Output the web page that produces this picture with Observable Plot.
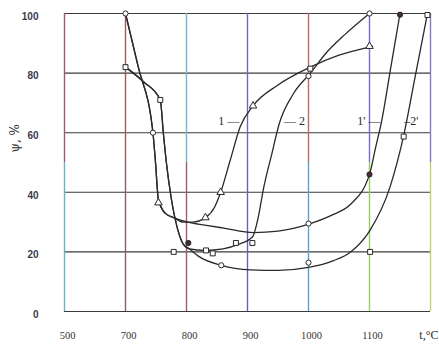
<!DOCTYPE html>
<html><head><meta charset="utf-8">
<script src="https://cdn.jsdelivr.net/npm/d3@7"></script>
<script src="https://cdn.jsdelivr.net/npm/@observablehq/plot@0.6"></script>
<style>body{margin:0;background:#fff}</style>
</head><body><div id="chart"></div>
<script>
// ---- axis ticks ----
const xTicks = [600, 700, 800, 900, 1000, 1100];
const xTickLabels = ["500", "700", "800", "900", "1000", "1100"];
const yTicks = [0, 20, 40, 60, 80, 100];
const gridX = [600, 700, 800, 900, 1000, 1100, 1200];

// ---- curves (t, °C ; psi, %) ----
const curve1T   = [700, 721, 745, 749, 754, 765, 779, 795, 810, 831, 846, 856, 872, 888, 909, 950, 1003, 1050, 1105];
const curve1Psi = [100, 82,  60,  50.5, 37.5, 33, 31.5, 30, 30, 31.5, 35, 40, 51, 62, 69, 76, 82, 86, 89];

const curve1pT   = [700, 721, 745, 749, 754, 765, 779, 802, 830, 861, 910, 950, 1003, 1040, 1069, 1100, 1110, 1120, 1135, 1150];
const curve1pPsi = [100, 82,  60,  50.5, 37.5, 33, 31.5, 30, 29, 28, 26.5, 27, 29.5, 32.5, 36, 46, 55, 64, 82, 100];

const curve2T   = [700, 730, 757, 762, 767, 775, 785, 795, 805, 830, 860, 885, 908, 918, 926, 940, 952, 975, 1003, 1030, 1060, 1100];
const curve2Psi = [82,  77,  71,  60,  50,  38,  28,  22.5, 21, 20.5, 21, 22.5, 25, 32, 41, 53, 63, 73, 80, 87, 93, 100];

const curve2pT   = [700, 730, 757, 762, 767, 775, 785, 795, 805, 820, 857, 905, 950, 1000, 1040, 1069, 1100, 1134, 1156, 1175, 1195];
const curve2pPsi = [82,  77,  71,  60,  50,  38,  28,  22.5, 21, 18.5, 15.5, 14, 13.8, 14.8, 17, 20, 27, 42, 59, 79, 100];

// ---- measured points ----
const circleT   = [700, 745, 1000, 1000, 1000, 857, 1100];
const circlePsi = [100, 60,  79,   29.5, 16.4, 15.5, 100];
const filledT   = [803, 1100, 1150];
const filledPsi = [23,  46,   99.6];
const squareT   = [700, 757, 779, 832, 843, 881, 908, 1003, 1156, 1195, 1101];
const squarePsi = [82,  71,  20,  20.5, 19.5, 23, 23, 81.5, 58.7, 99.5, 20];
const triT      = [754, 831, 856, 909, 1100];
const triPsi    = [36.5, 31.5, 40, 69, 89];

// ---- curve labels ----
const labelText = ["1 —", "— 2", "1' —", "–2'"];
const labelT    = [852, 960, 1080, 1157];
const labelPsi  = [64, 64, 64, 64];

// ---- styles ----
const gridTopColors    = ["#a05878", "#a0585e", "#70b8cc", "#6a6ab8", "#b86a62", "#7a6ac0", "#8a78b8"];
const gridBottomColors = ["#6ab4c4", "#8a5a70", "#9a5a74", "#6464b4", "#5ea0cc", "#9cc868", "#cccc74"];
const splitPsi = 50;
const ink = "#2a2a2a";

const toRows = (ts, ps) => ts.map((t, i) => ({t, psi: ps[i]}));
const curves = [
  toRows(curve1T, curve1Psi), toRows(curve1pT, curve1pPsi),
  toRows(curve2T, curve2Psi), toRows(curve2pT, curve2pPsi)
];
const gridRows = gridX.map((t, i) => ({t, top: gridTopColors[i], bottom: gridBottomColors[i]}));
const labels = labelText.map((text, i) => ({text, t: labelT[i], psi: labelPsi[i]}));

const chart = Plot.plot({
  width: 439, height: 346,
  marginLeft: 64, marginRight: 9, marginTop: 13, marginBottom: 35,
  x: {domain: [600, 1200]},
  y: {domain: [0, 100]},
  style: {background: "#fff", fontFamily: "Liberation Serif, serif"},
  marks: [
    Plot.ruleY(yTicks, {stroke: "#3a3a3a", strokeWidth: 1.1}),
    Plot.ruleX(gridRows, {x: "t", y1: splitPsi, y2: 100, stroke: d => d.top, strokeWidth: 1.4}),
    Plot.ruleX(gridRows, {x: "t", y1: 0, y2: splitPsi, stroke: d => d.bottom, strokeWidth: 1.4}),
    ...curves.map(c => Plot.line(c, {x: "t", y: "psi", curve: "monotone-x", stroke: ink, strokeWidth: 1.3})),
    Plot.dot(toRows(circleT, circlePsi), {x: "t", y: "psi", r: 2.6, stroke: ink, fill: "#fff", strokeWidth: 1}),
    Plot.dot(toRows(filledT, filledPsi), {x: "t", y: "psi", r: 2.6, stroke: ink, fill: "#4a2a3a", strokeWidth: 1}),
    Plot.dot(toRows(squareT, squarePsi), {x: "t", y: "psi", r: 2.8, symbol: "square", stroke: ink, fill: "#fff", strokeWidth: 1}),
    Plot.dot(toRows(triT, triPsi), {x: "t", y: "psi", r: 2.8, symbol: "triangle", stroke: ink, fill: "#fff", strokeWidth: 1}),
    Plot.text(labels, {x: "t", y: "psi", text: "text", textAnchor: "start", fontSize: 12, fill: ink, fontFamily: "Liberation Serif, serif"}),
    Plot.axisY({ticks: yTicks, tickSize: 0, tickPadding: 26, dy: 3, fontSize: 10, fontWeight: "bold", fill: "#3a3a4a", fontFamily: "Liberation Sans, sans-serif", label: null}),
    Plot.axisX({ticks: xTicks, tickFormat: d => xTickLabels[xTicks.indexOf(d)], tickSize: 0, tickPadding: 20, dx: 3, fontSize: 10.5, fill: "#333", label: null}),
    Plot.text(["ψ, %"], {frameAnchor: "left", rotate: -90, dx: -49, dy: -10, fontSize: 12, fill: ink, fontFamily: "DejaVu Serif, serif"}),
    Plot.text(["t,°C"], {frameAnchor: "bottom-right", textAnchor: "end", dx: 8, dy: 27, fontSize: 12, fill: ink, fontFamily: "Liberation Serif, serif"})
  ]
});
document.getElementById("chart").appendChild(chart);
</script>
</body></html>
